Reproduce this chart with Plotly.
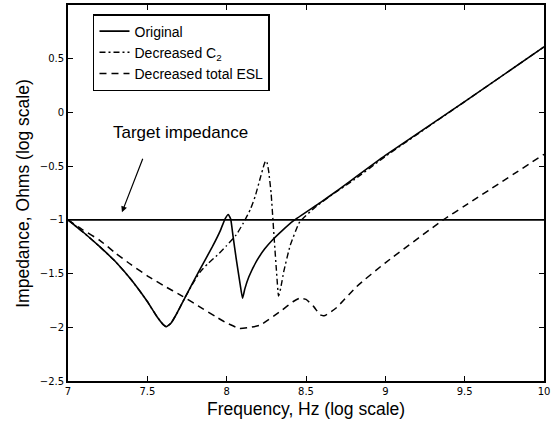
import plotly.graph_objects as go

# ---- data (log10 frequency, log10 impedance) ----
orig_f = [7.0, 7.1, 7.2, 7.3, 7.4, 7.5, 7.56, 7.6, 7.62, 7.65, 7.69, 7.735, 7.83, 7.91,
          7.96, 7.99, 8.01, 8.025, 8.04, 8.06, 8.085, 8.10, 8.115, 8.14, 8.19, 8.24,
          8.29, 8.35, 8.42, 8.59, 8.69, 9.0, 9.5, 10.0]
orig_z = [-1.0, -1.12, -1.25, -1.39, -1.56, -1.76, -1.90, -1.975, -1.995, -1.96, -1.86,
          -1.73, -1.465, -1.25, -1.10, -0.99, -0.95, -0.99, -1.15, -1.36, -1.60, -1.73,
          -1.64, -1.53, -1.38, -1.27, -1.185, -1.10, -1.01, -0.84, -0.735, -0.40, 0.10, 0.61]

c2_f = [7.0, 7.1, 7.2, 7.3, 7.4, 7.5, 7.56, 7.6, 7.62, 7.65, 7.69, 7.735, 7.78, 7.83,
        7.88, 7.94, 8.0, 8.06, 8.105, 8.15, 8.18, 8.21, 8.235, 8.245, 8.255, 8.265,
        8.28, 8.30, 8.315, 8.327, 8.34, 8.36, 8.40, 8.46, 8.56, 8.67, 8.8, 9.0, 9.5, 10.0]
c2_z = [-1.0, -1.12, -1.25, -1.39, -1.56, -1.76, -1.90, -1.975, -1.995, -1.96, -1.86,
        -1.73, -1.61, -1.49, -1.41, -1.33, -1.24, -1.14, -1.03, -0.90, -0.78, -0.62,
        -0.49, -0.45, -0.47, -0.55, -0.75, -1.185, -1.50, -1.71, -1.64, -1.48, -1.24,
        -1.02, -0.88, -0.76, -0.63, -0.41, 0.10, 0.61]

esl_f = [7.0, 7.09, 7.2, 7.3, 7.4, 7.51, 7.6, 7.72, 7.82, 7.93, 8.0, 8.08, 8.15,
         8.21, 8.34, 8.42, 8.46, 8.50, 8.55, 8.59, 8.62, 8.69, 8.82, 9.0, 9.365, 9.5, 10.0]
esl_z = [-1.0, -1.09, -1.19, -1.31, -1.42, -1.53, -1.61, -1.71, -1.80, -1.90, -1.96,
         -2.01, -2.0, -1.98, -1.85, -1.76, -1.73, -1.74, -1.81, -1.885, -1.89, -1.82,
         -1.62, -1.40, -1.0, -0.87, -0.39]

target_f = [7.0, 10.0]
target_z = [-1.0, -1.0]

x_ticks = [7, 7.5, 8, 8.5, 9, 9.5, 10]
y_ticks = [-2.5, -2, -1.5, -1, -0.5, 0, 0.5, 1]

TXT = "Liberation Sans, Arial, sans-serif"

fig = go.Figure()
fig.add_trace(go.Scatter(x=target_f, y=target_z, mode="lines", showlegend=False,
                         hoverinfo="skip", line=dict(color="black", width=1.6)))
fig.add_trace(go.Scatter(x=orig_f, y=orig_z, mode="lines", name="Original",
                         line=dict(color="black", width=1.6, shape="spline", smoothing=0.4)))
fig.add_trace(go.Scatter(x=c2_f, y=c2_z, mode="lines", name="Decreased C<sub>2</sub>",
                         line=dict(color="black", width=1.4, dash="6px,3px,2px,3px",
                                   shape="spline", smoothing=0.4)))
fig.add_trace(go.Scatter(x=esl_f, y=esl_z, mode="lines", name="Decreased total ESL",
                         line=dict(color="black", width=1.5, dash="7px,5px",
                                   shape="spline", smoothing=0.5)))

axis_common = dict(showline=True, linecolor="black", linewidth=1.8, mirror="ticks",
                   ticks="inside", ticklen=5, tickwidth=1.2, tickcolor="black",
                   showgrid=False, zeroline=False, automargin=False,
                   tickfont=dict(family="DejaVu Sans", size=10, color="black"))

fig.update_xaxes(range=[7, 10], tickvals=x_ticks,
                 ticktext=[f"{v:g}" for v in x_ticks], **axis_common)
fig.update_yaxes(range=[-2.5, 1], tickvals=y_ticks,
                 ticktext=[f"{v:g}".replace("-", "\u2212") for v in y_ticks], **axis_common)

fig.update_layout(
    width=560, height=425,
    margin=dict(l=68, r=16, t=5, b=44, pad=0),
    paper_bgcolor="white", plot_bgcolor="white",
    font=dict(family=TXT, color="black"),
    legend=dict(x=0.0525, y=0.976, xanchor="left", yanchor="top",
                bgcolor="white", bordercolor="black", borderwidth=1.5,
                font=dict(family=TXT, size=14, color="black"),
                tracegroupgap=0),
    annotations=[
        dict(text="Target impedance", x=7.71, y=-0.19, xref="x", yref="y",
             showarrow=False, font=dict(family=TXT, size=17, color="black")),
        dict(text=" ", x=7.34, y=-0.93, ax=7.49, ay=-0.36, xref="x", yref="y",
             axref="x", ayref="y", showarrow=True, arrowhead=2, arrowsize=1,
             arrowwidth=1.2, arrowcolor="black"),
        dict(text="Frequency, Hz (log scale)", x=0.5, y=-0.0745, xref="paper",
             yref="paper", showarrow=False, xanchor="center", yanchor="middle",
             font=dict(family=TXT, size=17.5, color="black")),
        dict(text="Impedance, Ohms (log scale)", x=-0.095, y=0.5, xref="paper",
             yref="paper", showarrow=False, textangle=-90, xanchor="center",
             yanchor="middle", font=dict(family=TXT, size=17.5, color="black")),
    ],
)

fig.write_html("out.html", config={"displayModeBar": False},
               post_script="document.body.style.margin='0px';")
